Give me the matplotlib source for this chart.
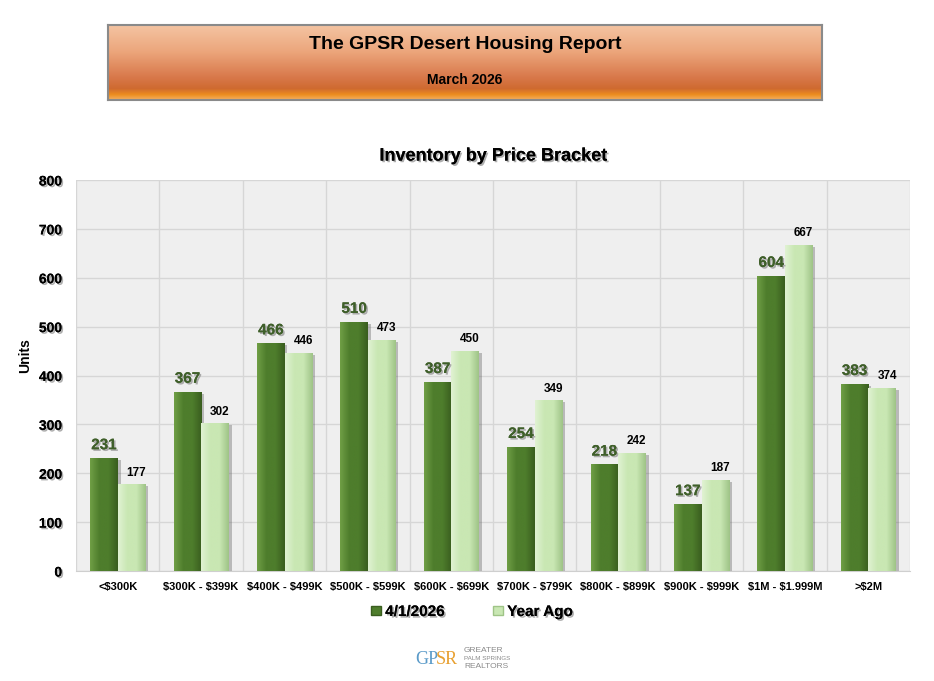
import numpy as np
import matplotlib
matplotlib.use("Agg")
import matplotlib.pyplot as plt
import matplotlib.patheffects as pe
from matplotlib.colors import LinearSegmentedColormap
from matplotlib.patches import Rectangle

# data
brackets = ["<$300K", "$300K - $399K", "$400K - $499K", "$500K - $599K", "$600K - $699K",
            "$700K - $799K", "$800K - $899K", "$900K - $999K", "$1M - $1.999M", ">$2M"]
current = [231, 367, 466, 510, 387, 254, 218, 137, 604, 383]
year_ago = [177, 302, 446, 473, 450, 349, 242, 187, 667, 374]
series_names = ["4/1/2026", "Year Ago"]

dark_green = "#4e7d2c"
light_green = "#c9e7b3"

plt.rcParams['font.family'] = ['Liberation Sans', 'DejaVu Sans']
plt.rcParams['text.parse_math'] = False

fig = plt.figure(figsize=(9.34, 6.81), dpi=100)
fig.patch.set_facecolor("white")

shadow = [pe.withSimplePatchShadow(offset=(1.2, -1.2), shadow_rgbFace="#9a9a9a", alpha=0.8), pe.Normal()]

# banner with orange gradient
ban = fig.add_axes([108 / 934, 1 - 100 / 681, 714 / 934, 75 / 681])
grad_cmap = LinearSegmentedColormap.from_list(
    "ban", [(0, "#f4c4a2"), (0.35, "#eca67c"), (0.7, "#d8784a"), (0.85, "#cf6a30"),
            (0.93, "#ec8c1e"), (1, "#f4b060")])
g = np.linspace(0, 1, 200).reshape(-1, 1)
ban.imshow(g, aspect="auto", cmap=grad_cmap, extent=[0, 1, 0, 1], origin="upper")
ban.set_xlim(0, 1)
ban.set_ylim(0, 1)
ban.set_xticks([])
ban.set_yticks([])
for s in ban.spines.values():
    s.set_color("#8a8a8a")
    s.set_linewidth(1.5)
ban.text(0.5, 0.74, "The GPSR Desert Housing Report", ha="center", va="center",
         fontsize=14, fontweight="bold", color="black")
ban.text(0.5, 0.26, "March 2026", ha="center", va="center",
         fontsize=10, fontweight="bold", color="black")

# main chart
ax = fig.add_axes([76 / 934, 1 - 571 / 681, 834 / 934, 391 / 681])
ax.set_facecolor("#efefef")
n = len(brackets)
x = np.arange(n)
w = 0.33

def draw_bars(xs, vals, base, edge_light, edge_dark):
    bars = ax.bar(xs, vals, width=w, color=base, zorder=3, linewidth=0)
    cmap = LinearSegmentedColormap.from_list("b", [edge_light, base, base, edge_dark])
    for b in bars:
        bx, by = b.get_x(), b.get_y()
        bw, bh = b.get_width(), b.get_height()
        sh = Rectangle((bx + 0.035, by), bw, bh - 4, facecolor="#555555",
                       alpha=0.35, zorder=2, linewidth=0)
        ax.add_patch(sh)
        im = ax.imshow(np.linspace(0, 1, 50).reshape(1, -1), cmap=cmap, aspect="auto",
                       extent=[bx, bx + bw, by, by + bh], zorder=3.5)
        im.set_clip_path(b)
    return bars

draw_bars(x - w / 2, current, dark_green, "#6f9e45", "#3a5e1f")
draw_bars(x + w / 2, year_ago, light_green, "#e0f2d2", "#9fc487")
ax.set_xlim(-0.5, n - 0.5)
ax.set_ylim(0, 800)

for i in range(n):
    ax.text(x[i] - w / 2, current[i] + 12, str(current[i]), ha="center", va="bottom",
            fontsize=11, fontweight="bold", color="#3f5f2a", zorder=5, path_effects=shadow)
    ax.text(x[i] + w / 2 + 0.06, year_ago[i] + 12, str(year_ago[i]), ha="center", va="bottom",
            fontsize=8.5, fontweight="bold", color="black", zorder=5)

ax.set_yticks(np.arange(0, 801, 100))
ax.set_xticks(x)
ax.set_xticklabels(brackets, fontsize=8, fontweight="bold")
for lbl in ax.get_yticklabels():
    lbl.set_fontweight("bold")
    lbl.set_fontsize(10)
    lbl.set_path_effects(shadow)
ax.tick_params(length=0, pad=8)
ax.tick_params(axis="y", pad=10)
ax.set_xticks(np.arange(-0.5, n, 1), minor=True)
ax.tick_params(which="minor", length=0)
ax.grid(True, axis="y", color="#d6d6d6", linewidth=1, zorder=0)
ax.grid(True, axis="x", which="minor", color="#d6d6d6", linewidth=1, zorder=0)
ax.grid(False, axis="x", which="major")
for s in ["top", "right", "left"]:
    ax.spines[s].set_visible(False)
ax.spines["bottom"].set_color("#cfcfcf")
ax.set_ylabel("Units", fontsize=10, fontweight="bold", labelpad=2)
ax.yaxis.set_label_coords(-44 / 834, 0.55)
ax.set_title("Inventory by Price Bracket", fontsize=13, fontweight="bold", pad=14,
             path_effects=shadow)

handles = [Rectangle((0, 0), 1, 1, facecolor=dark_green, edgecolor="#3a5e1f"),
           Rectangle((0, 0), 1, 1, facecolor=light_green, edgecolor="#9fc487")]
leg = fig.legend(handles, series_names, loc="center", bbox_to_anchor=(472 / 934, 1 - 612 / 681),
                 ncol=2, frameon=False, handlelength=0.6, handleheight=0.6, handletextpad=0.3,
                 columnspacing=3.2, prop={"weight": "bold", "size": 11})
for t in leg.get_texts():
    t.set_path_effects(shadow)

# logo
fig.text(415 / 934, 1 - 660 / 681, "GP", color="#5b9bc9", fontsize=13, ha="left", va="center",
         family=["Liberation Serif", "DejaVu Serif"])
fig.text(436 / 934, 1 - 660 / 681, "SR", color="#e8a030", fontsize=13, ha="left", va="center",
         family=["Liberation Serif", "DejaVu Serif"])
fig.text(464 / 934, 1 - 651 / 681, "GREATER", color="#8a8a8a", fontsize=6, ha="left", va="center")
fig.text(464 / 934, 1 - 659 / 681, "PALM SPRINGS", color="#8a8a8a", fontsize=4.5, ha="left", va="center")
fig.text(464 / 934, 1 - 667 / 681, "REALTORS", color="#8a8a8a", fontsize=6, ha="left", va="center")

fig.savefig("out.png", dpi=100, facecolor="white")
